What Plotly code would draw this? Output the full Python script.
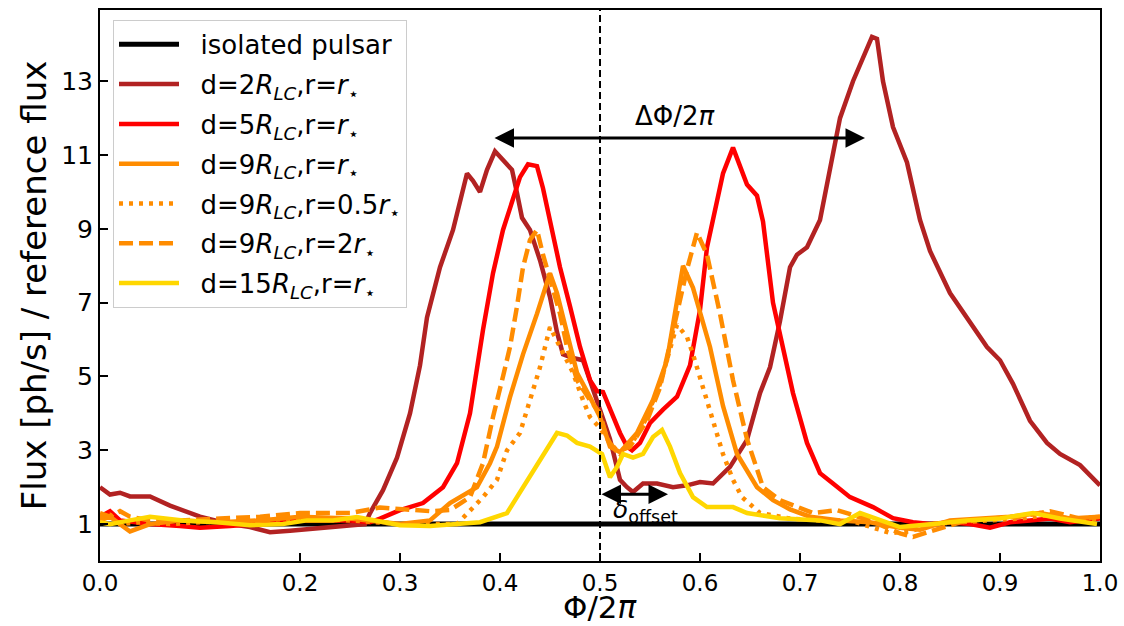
import plotly.graph_objects as go

# ---- data ----
iso_x = [0.0, 1.0]
iso_y = [1.0, 1.0]

d2_x = [0.00,0.01,0.02,0.03,0.05,0.07,0.10,0.13,0.15,0.17,0.19,0.22,0.25,0.265,0.27,0.283,0.297,0.31,0.32,0.327,0.34,0.353,0.367,0.373,0.38,0.387,0.395,0.403,0.412,0.417,0.422,0.43,0.44,0.45,0.457,0.463,0.473,0.483,0.493,0.50,0.51,0.52,0.527,0.533,0.543,0.557,0.573,0.587,0.60,0.613,0.63,0.647,0.66,0.67,0.68,0.69,0.697,0.707,0.72,0.73,0.74,0.753,0.762,0.772,0.777,0.783,0.793,0.807,0.82,0.83,0.85,0.867,0.887,0.90,0.913,0.93,0.947,0.96,0.98,1.0]
d2_y = [2.0,1.8,1.85,1.75,1.75,1.5,1.2,1.0,0.92,0.78,0.82,0.9,0.95,1.0,1.3,1.92,2.8,4.0,5.3,6.6,7.96,8.97,10.5,10.3,10.0,10.6,11.1,10.86,10.6,9.97,9.3,8.97,8.15,7.15,6.2,5.6,5.5,5.44,4.6,4.1,3.3,2.2,2.0,1.87,2.1,2.1,2.0,2.05,2.14,2.1,2.55,3.28,4.55,5.25,6.5,7.96,8.3,8.5,9.24,10.6,12.0,13.0,13.6,14.2,14.15,13.0,11.76,10.8,9.24,8.4,7.26,6.6,5.8,5.44,4.8,3.8,3.2,2.9,2.6,2.05]

d5_x = [0.0,0.01,0.02,0.05,0.08,0.10,0.13,0.17,0.20,0.25,0.27,0.28,0.30,0.323,0.343,0.357,0.37,0.383,0.393,0.403,0.41,0.42,0.428,0.437,0.443,0.45,0.46,0.47,0.48,0.49,0.497,0.503,0.51,0.52,0.527,0.532,0.54,0.55,0.563,0.577,0.59,0.60,0.607,0.613,0.623,0.633,0.647,0.657,0.663,0.673,0.68,0.693,0.707,0.72,0.733,0.75,0.773,0.793,0.813,0.83,0.85,0.87,0.89,0.91,0.93,0.95,0.97,1.0]
d5_y = [1.2,1.35,1.1,1.0,0.95,0.9,0.95,1.05,1.1,1.1,1.05,1.15,1.38,1.57,2.0,2.65,4.0,6.26,7.8,8.97,9.6,10.4,10.75,10.7,10.1,9.16,7.96,6.9,5.8,4.9,4.6,4.58,4.1,3.47,3.1,3.0,3.2,3.74,4.1,4.45,5.3,6.8,8.5,9.3,10.5,11.2,10.2,9.9,9.2,7.0,6.1,4.55,3.2,2.38,2.1,1.73,1.46,1.16,1.05,1.0,1.05,1.0,0.9,1.05,1.1,1.15,1.05,1.15]

d9_x = [0.0,0.01,0.02,0.03,0.05,0.08,0.12,0.16,0.20,0.25,0.30,0.33,0.35,0.377,0.39,0.397,0.41,0.423,0.437,0.45,0.457,0.467,0.477,0.49,0.50,0.51,0.52,0.537,0.553,0.567,0.577,0.583,0.593,0.61,0.623,0.637,0.657,0.673,0.69,0.71,0.74,0.77,0.80,0.82,0.85,0.88,0.91,0.94,0.97,1.0]
d9_y = [1.1,1.2,1.0,0.8,1.0,1.1,1.05,1.1,1.2,1.15,1.0,1.1,1.57,2.0,2.65,3.1,4.44,5.6,6.7,7.8,7.26,6.2,5.1,4.44,3.9,3.1,2.95,3.47,4.36,5.44,7.15,8.0,7.4,5.8,4.2,2.9,2.0,1.65,1.4,1.2,1.1,1.05,0.9,0.85,1.1,1.15,1.2,1.3,1.15,1.2]

d9h_x = [0.0,0.01,0.02,0.04,0.07,0.10,0.15,0.20,0.25,0.30,0.33,0.357,0.383,0.397,0.407,0.42,0.43,0.44,0.45,0.46,0.473,0.483,0.49,0.50,0.51,0.52,0.53,0.545,0.56,0.577,0.587,0.593,0.603,0.613,0.623,0.633,0.642,0.66,0.69,0.72,0.75,0.79,0.81,0.83,0.86,0.89,0.92,0.95,0.98,1.0]
d9h_y = [1.2,1.25,1.0,1.05,1.0,1.05,1.1,1.15,1.1,1.0,1.0,1.0,1.73,2.2,3.0,3.47,4.36,5.25,6.34,5.8,5.1,4.36,3.9,3.6,3.2,2.9,3.1,3.8,4.8,6.4,6.07,5.6,4.7,3.8,2.9,2.2,1.73,1.3,1.15,1.1,1.1,0.76,0.8,1.0,1.05,1.1,1.15,1.25,1.1,1.15]

d9d_x = [0.0,0.01,0.02,0.03,0.05,0.08,0.12,0.16,0.20,0.25,0.28,0.30,0.33,0.35,0.37,0.383,0.393,0.403,0.41,0.417,0.423,0.43,0.437,0.443,0.45,0.46,0.467,0.477,0.49,0.50,0.507,0.517,0.53,0.547,0.56,0.573,0.587,0.597,0.607,0.62,0.633,0.647,0.663,0.68,0.713,0.737,0.77,0.80,0.813,0.83,0.86,0.89,0.92,0.95,0.98,1.0]
d9d_y = [1.3,1.2,1.35,1.2,1.1,1.1,1.15,1.2,1.3,1.3,1.45,1.4,1.35,1.38,1.73,2.65,3.9,5.0,5.8,6.9,7.96,8.7,8.97,8.3,7.6,6.7,5.8,4.9,4.36,4.0,3.3,2.95,3.1,3.8,4.7,6.26,7.9,8.9,8.3,6.7,4.9,3.3,2.0,1.65,1.3,1.38,1.1,0.75,0.65,0.8,1.05,1.15,1.2,1.35,1.15,1.2]

d15_x = [0.0,0.01,0.03,0.05,0.083,0.117,0.15,0.183,0.207,0.233,0.257,0.283,0.30,0.33,0.363,0.38,0.407,0.423,0.44,0.457,0.467,0.477,0.49,0.502,0.51,0.517,0.523,0.533,0.543,0.553,0.562,0.57,0.58,0.593,0.607,0.633,0.647,0.68,0.72,0.74,0.76,0.78,0.80,0.833,0.867,0.90,0.933,0.96,0.997]
d15_y = [1.05,1.0,1.1,1.2,1.1,1.05,0.97,1.0,1.1,1.1,1.19,1.05,0.97,0.95,1.0,1.05,1.3,2.0,2.73,3.47,3.4,3.2,3.1,2.9,2.27,2.55,2.9,2.8,2.9,3.36,3.55,3.1,2.38,1.73,1.46,1.46,1.3,1.16,1.1,1.0,1.3,1.1,0.92,1.0,1.1,1.15,1.3,1.15,1.0]

x_tickvals = [0.0, 0.2, 0.3, 0.4, 0.5, 0.6, 0.7, 0.8, 0.9, 1.0]
x_ticktext = ["0.0", "0.2", "0.3", "0.4", "0.5", "0.6", "0.7", "0.8", "0.9", "1.0"]
y_tickvals = [1, 3, 5, 7, 9, 11, 13]

STAR = "<sub>\u22c6</sub>"
LC = "<i>R</i><sub><i>LC</i></sub>"
PAD = "\u00a0\u00a0"
series = [
    ("isolated pulsar", iso_x, iso_y, "black", "solid", 5),
    ("d=2" + LC + ",r=<i>r</i>" + STAR, d2_x, d2_y, "#B22222", "solid", 4.5),
    ("d=5" + LC + ",r=<i>r</i>" + STAR, d5_x, d5_y, "#FF0000", "solid", 4.5),
    ("d=9" + LC + ",r=<i>r</i>" + STAR, d9_x, d9_y, "#FF8C00", "solid", 4.5),
    ("d=9" + LC + ",r=0.5<i>r</i>" + STAR, d9h_x, d9h_y, "#FF8C00", "4px,6px", 4.5),
    ("d=9" + LC + ",r=2<i>r</i>" + STAR, d9d_x, d9d_y, "#FF8C00", "14px,6px", 4.5),
    ("d=15" + LC + ",r=<i>r</i>" + STAR, d15_x, d15_y, "#FFD700", "solid", 4.5),
]

fig = go.Figure()
for i, (name, xs, ys, col, dash, w) in enumerate(series):
    fig.add_trace(go.Scatter(x=xs, y=ys, mode="lines", name=PAD + name,
                             legendgroup="g%d" % i,
                             line=dict(color=col, width=w, dash=dash)))

fig.add_shape(type="line", x0=0.5, x1=0.5, xref="x", y0=0, y1=1, yref="paper",
              line=dict(color="black", width=2, dash="7px,4px"))

# Delta Phi double arrow
fig.add_annotation(x=0.765, y=11.46, ax=0.393, ay=11.46, xref="x", yref="y",
                   axref="x", ayref="y", showarrow=True, arrowhead=2,
                   arrowside="end+start", arrowsize=1.3, arrowwidth=3,
                   arrowcolor="black", text="")
fig.add_annotation(x=0.575, y=12.05, xref="x", yref="y", showarrow=False,
                   text="\u0394\u03a6/2<i>\u03c0</i>",
                   font=dict(size=26, color="black"))
# delta offset double arrow
fig.add_annotation(x=0.568, y=1.81, ax=0.5, ay=1.81, xref="x", yref="y",
                   axref="x", ayref="y", showarrow=True, arrowhead=2,
                   arrowside="end+start", arrowsize=1.3, arrowwidth=3,
                   arrowcolor="black", text="")
fig.add_annotation(x=0.545, y=1.35, xref="x", yref="y", showarrow=False,
                   text="<i>\u03b4</i><sub>offset</sub>",
                   font=dict(size=25, color="black"))
# x axis title
fig.add_annotation(x=0.5, y=-0.084, xref="paper", yref="paper", showarrow=False,
                   xanchor="center", yanchor="middle",
                   text="\u03a6/2<i>\u03c0</i>", font=dict(size=31, color="black"))

fig.update_layout(
    width=1124, height=626,
    margin=dict(l=100, r=24, t=10, b=65),
    paper_bgcolor="white", plot_bgcolor="white",
    font=dict(family="DejaVu Sans", color="black"),
    showlegend=True,
    legend=dict(x=0.013, y=0.982, xanchor="left", yanchor="top",
                bgcolor="rgba(255,255,255,0.85)", bordercolor="#cccccc",
                borderwidth=1, font=dict(size=26), itemwidth=60,
                traceorder="grouped", tracegroupgap=3),
)
fig.update_xaxes(range=[0, 1], tickvals=x_tickvals, ticktext=x_ticktext,
                 ticks="inside", ticklen=8, tickwidth=2, tickcolor="black",
                 showline=True, linecolor="black", linewidth=2, mirror=True,
                 showgrid=False, zeroline=False, tickfont=dict(size=23),
                 automargin=False)
fig.update_yaxes(range=[0, 14.93], tickvals=y_tickvals,
                 ticks="inside", ticklen=8, tickwidth=2, tickcolor="black",
                 showline=True, linecolor="black", linewidth=2, mirror=True,
                 showgrid=False, zeroline=False, tickfont=dict(size=25),
                 automargin=False,
                 title=dict(text="Flux [ph/s] / reference flux", font=dict(size=34), standoff=4))

fig.write_html("out.html")
